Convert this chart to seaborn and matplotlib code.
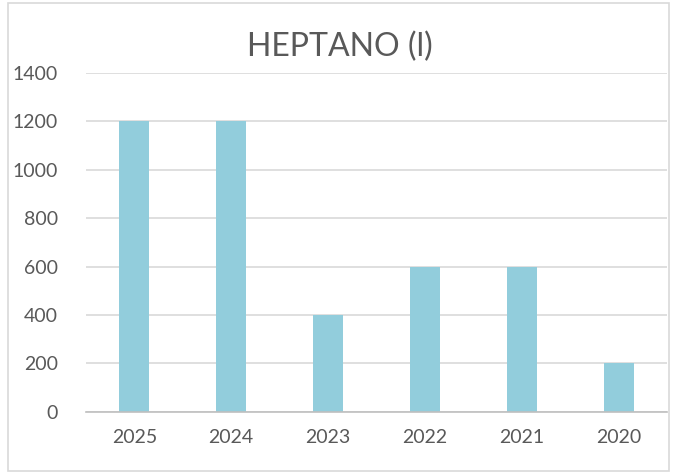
import matplotlib
matplotlib.use("Agg")
import matplotlib.pyplot as plt
import seaborn as sns
import numpy as np
from matplotlib.patches import Rectangle

years = ["2025", "2024", "2023", "2022", "2021", "2020"]
litros = [1200, 1200, 400, 600, 600, 200]
y_ticks = [0, 200, 400, 600, 800, 1000, 1200, 1400]

sns.set_style("white")
plt.rcParams['font.family'] = ['Lato', 'DejaVu Sans']

fig = plt.figure(figsize=(6.76, 4.74), dpi=100)
ax = fig.add_axes([0.127, 0.131, 0.86, 0.715])

sns.barplot(x=years, y=litros, color="#92CDDC", saturation=1, width=0.31,
            linewidth=0, ax=ax)

ax.set_ylim(0, 1400)
ax.set_xlim(-0.5, len(years) - 0.5)
ax.set_yticks(y_ticks)
ax.yaxis.grid(True, color="#d9d9d9", linewidth=1.2)
ax.set_axisbelow(True)
for s in ["top", "right", "left"]:
    ax.spines[s].set_visible(False)
ax.spines["bottom"].set_color("#bfbfbf")
ax.spines["bottom"].set_linewidth(1.2)

ax.tick_params(axis="y", length=0, labelsize=14, labelcolor="#595959", pad=20)
ax.tick_params(axis="x", which="major", length=0, labelsize=14, labelcolor="#595959", pad=12)
ax.set_xticks(np.arange(-0.5, len(years), 1), minor=True)
ax.tick_params(axis="x", which="minor", length=7, color="#bfbfbf", width=1.2, direction="out")

fig.text(0.503, 0.90, "HEPTANO (l)", fontsize=23, color="#595959",
         ha="center", va="center")

fig.patches.append(Rectangle((0.012, 0.006), 0.978, 0.988, transform=fig.transFigure,
                             fill=False, edgecolor="#d9d9d9", linewidth=1.2))

fig.savefig("out.png", dpi=100)
